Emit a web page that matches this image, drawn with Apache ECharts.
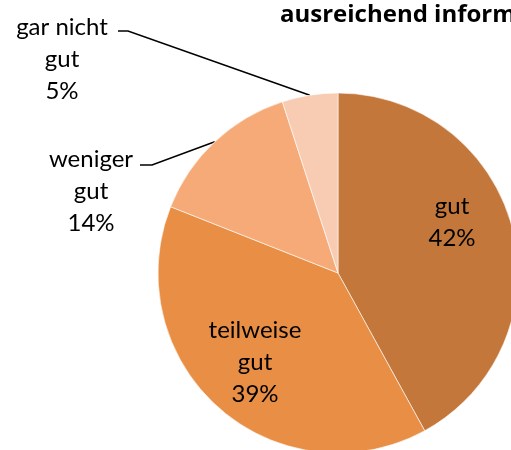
<!DOCTYPE html>
<html><head><meta charset="utf-8">
<script src="https://cdn.jsdelivr.net/npm/echarts@6/dist/echarts.min.js"></script>
<style>html,body{margin:0;padding:0;background:#fff}#c{width:511px;height:450px}</style>
</head><body><div id="c"></div>
<script>
const titleText = 'ausreichend informiert';
const categories = ['gut', 'teilweise\ngut', 'weniger\ngut', 'gar nicht\ngut'];
const values = [42, 39, 14, 5];
const colors = ['#C4773A', '#E88E45', '#F5AA78', '#F8CBB3'];

const FONT = 'Lato';
const labelPos = [
  {x: 452, y: 222},
  {x: 255, y: 362},
  {x: 91, y: 191, knee: [152, 165], end: [140, 165]},
  {x: 62, y: 59, knee: [128, 31], end: [118, 31]}
];

const chart = echarts.init(document.getElementById('c'), null, {renderer: 'canvas'});
chart.setOption({
  animation: false,
  title: {
    text: titleText, left: 275, top: -2,
    textStyle: {fontFamily: 'Open Sans', fontWeight: 'bold', fontSize: 24, color: '#000'}
  },
  series: [{
    type: 'pie',
    center: [338, 273],
    radius: [0, 180],
    startAngle: 90,
    clockwise: true,
    avoidLabelOverlap: false,
    itemStyle: {borderColor: '#fff', borderWidth: 0.6},
    label: {
      show: true,
      formatter: '{b}\n{d}%',
      fontFamily: FONT, fontSize: 24, lineHeight: 32, color: '#000', align: 'center'
    },
    labelLine: {show: false, lineStyle: {color: '#000', width: 1.5}, length: 10, length2: 10},
    data: categories.map((c, i) => ({
      name: c, value: values[i],
      itemStyle: {color: colors[i]},
      label: {position: labelPos[i].knee ? 'outside' : 'inside'},
      labelLine: {show: !!labelPos[i].knee}
    })),
    labelLayout: function (p) {
      const lp = labelPos[p.dataIndex];
      const out = {x: lp.x, y: lp.y, align: 'center', verticalAlign: 'middle'};
      if (lp.knee && p.labelLinePoints) {
        out.labelLinePoints = [p.labelLinePoints[0], lp.knee, lp.end];
      }
      return out;
    }
  }]
});
</script></body></html>
